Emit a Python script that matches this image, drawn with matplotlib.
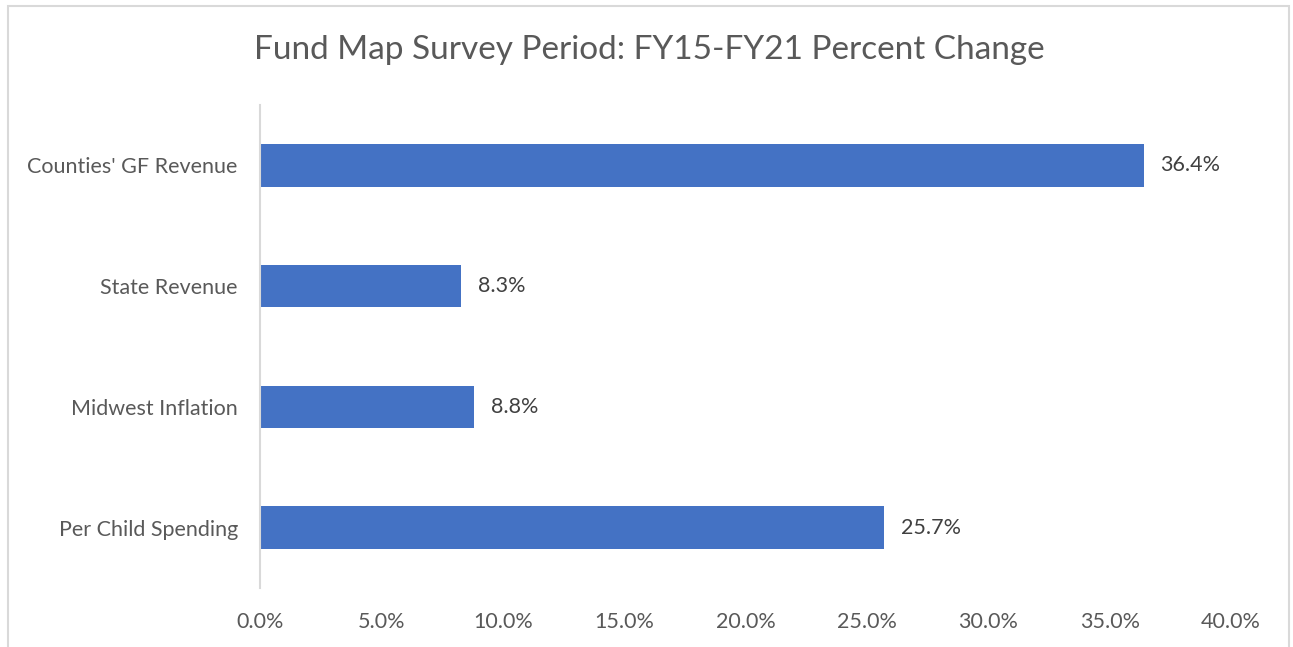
import matplotlib.pyplot as plt
from matplotlib.patches import Rectangle
from matplotlib.ticker import FuncFormatter

categories = ["Counties' GF Revenue", "State Revenue", "Midwest Inflation", "Per Child Spending"]
values = [36.4, 8.3, 8.8, 25.7]
xticks = [0, 5, 10, 15, 20, 25, 30, 35, 40]

grey = '#595959'
plt.rcParams['font.family'] = ['Lato', 'DejaVu Sans']

fig = plt.figure(figsize=(12.93, 6.47), dpi=100)
fig.patches.append(Rectangle((8 / 1293, -0.1), 1281 / 1293, 1.1 - 6 / 647,
                             transform=fig.transFigure, fill=False,
                             edgecolor='#D9D9D9', lw=1.5))

ax = fig.add_axes([260 / 1293, 59 / 647, 971 / 1293, 483 / 647])
pos = list(range(len(categories)))[::-1]
ax.barh(pos, values, height=0.35, color='#4472C4')
for p, v in zip(pos, values):
    ax.text(v + 0.7, p, f'{v:.1f}%', va='center', ha='left', fontsize=15.5, color='#404040')

ax.set_xlim(0, 40)
ax.set_ylim(-0.5, 3.5)
ax.set_xticks(xticks)
ax.xaxis.set_major_formatter(FuncFormatter(lambda x, _: f'{x:.1f}%'))
ax.set_yticks(pos)
ax.set_yticklabels(categories)
ax.tick_params(axis='both', length=0, labelsize=15.5, labelcolor=grey)
ax.tick_params(axis='x', pad=17)
ax.tick_params(axis='y', pad=16)
for s in ['top', 'right', 'bottom']:
    ax.spines[s].set_visible(False)
ax.spines['left'].set_color('#D9D9D9')
ax.spines['left'].set_linewidth(1.5)

fig.text(649 / 1293, 1 - 50 / 647, 'Fund Map Survey Period: FY15-FY21 Percent Change',
         ha='center', va='center', fontsize=24, color=grey)

fig.savefig('out.png', dpi=100)
